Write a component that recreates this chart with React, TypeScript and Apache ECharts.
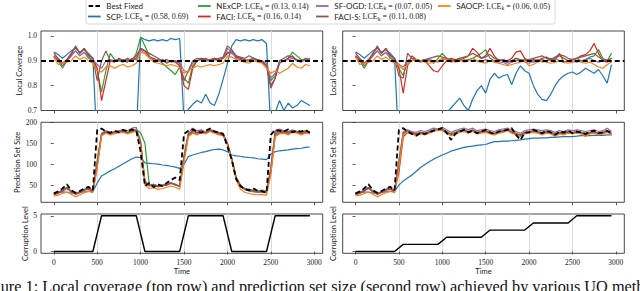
import React, { useEffect, useRef } from 'react';
import * as echarts from 'echarts';

// ---------- data ----------
const timeSteps = Array.from({ length: 60 }, (_, i) => i * 50);
const xTicks = [0, 500, 1000, 1500, 2000, 2500, 3000];
const coverageTicks = [0.7, 0.8, 0.9, 1.0];
const sizeTicks = [50, 100, 150, 200];
const levelTicks = [0, 5];
const targetCoverage = 0.9;

const methodNames = ['SCP', 'NExCP', 'FACI', 'SF-OGD', 'FACI-S', 'SAOCP'];
const lceCoverage = [0.58, 0.13, 0.16, 0.07, 0.11, 0.06];
const lceSize = [0.69, 0.14, 0.14, 0.05, 0.08, 0.05];

// Local coverage, left column
const covLeftSCP = [0.935,0.925,0.91,0.925,0.94,0.95,0.935,0.945,0.93,0.91,
  0.55,0.5,0.45,0.42,0.4,0.4,0.42,0.45,0.5,0.6,
  0.995,0.985,0.98,0.985,0.98,0.985,0.98,0.99,0.985,0.99,
  0.66,0.705,0.725,0.74,0.73,0.765,0.73,0.72,0.765,0.825,
  0.89,0.96,0.985,0.98,0.985,0.98,0.985,0.98,0.985,0.97,
  0.62,0.69,0.74,0.7,0.73,0.71,0.72,0.74,0.73,0.72];
const covLeftNExCP = [0.92,0.9,0.87,0.9,0.92,0.94,0.92,0.935,0.91,0.9,
  0.86,0.775,0.86,0.93,0.905,0.9,0.895,0.905,0.9,0.93,
  0.995,0.96,0.92,0.9,0.905,0.89,0.875,0.86,0.845,0.875,
  0.83,0.81,0.88,0.9,0.91,0.905,0.9,0.91,0.905,0.91,
  0.935,0.93,0.92,0.91,0.9,0.905,0.91,0.9,0.895,0.88,
  0.82,0.84,0.9,0.9,0.91,0.935,0.92,0.905,0.9,0.91];
const covLeftFACI = [0.93,0.91,0.89,0.905,0.93,0.955,0.93,0.95,0.92,0.91,
  0.87,0.74,0.82,0.9,0.895,0.91,0.9,0.895,0.91,0.905,
  0.95,0.94,0.915,0.91,0.9,0.905,0.89,0.9,0.895,0.88,
  0.8,0.785,0.87,0.9,0.91,0.9,0.905,0.91,0.9,0.91,
  0.93,0.94,0.915,0.91,0.905,0.9,0.91,0.9,0.895,0.88,
  0.8,0.83,0.89,0.9,0.91,0.92,0.9,0.895,0.905,0.9];
const covLeftSFOGD = [0.915,0.9,0.89,0.9,0.92,0.94,0.92,0.935,0.915,0.905,
  0.885,0.87,0.9,0.905,0.9,0.9,0.905,0.9,0.905,0.91,
  0.945,0.93,0.915,0.905,0.9,0.9,0.895,0.9,0.9,0.89,
  0.86,0.855,0.89,0.9,0.905,0.9,0.9,0.905,0.9,0.91,
  0.95,0.935,0.91,0.905,0.9,0.9,0.905,0.9,0.9,0.89,
  0.83,0.85,0.89,0.9,0.905,0.91,0.9,0.9,0.905,0.9];
const covLeftFACIS = [0.92,0.905,0.88,0.9,0.925,0.96,0.93,0.95,0.925,0.91,
  0.82,0.9,0.94,0.9,0.9,0.905,0.9,0.91,0.9,0.92,
  0.95,0.94,0.93,0.92,0.91,0.9,0.905,0.895,0.9,0.89,
  0.82,0.86,0.9,0.91,0.905,0.91,0.9,0.905,0.91,0.915,
  0.96,0.945,0.92,0.915,0.91,0.92,0.91,0.905,0.9,0.88,
  0.79,0.83,0.9,0.91,0.92,0.915,0.905,0.9,0.91,0.905];
const covLeftSAOCP = [0.915,0.885,0.89,0.895,0.9,0.92,0.905,0.915,0.9,0.89,
  0.86,0.855,0.875,0.88,0.87,0.88,0.885,0.875,0.88,0.89,
  0.935,0.93,0.91,0.895,0.89,0.885,0.88,0.885,0.88,0.875,
  0.85,0.86,0.87,0.88,0.875,0.88,0.885,0.88,0.885,0.89,
  0.92,0.915,0.905,0.9,0.895,0.89,0.9,0.895,0.89,0.87,
  0.85,0.86,0.85,0.86,0.87,0.89,0.875,0.87,0.885,0.88];

// Local coverage, right column
const covRightSCP = [0.935,0.925,0.91,0.925,0.94,0.95,0.935,0.945,0.93,0.91,
  0.55,0.48,0.42,0.4,0.38,0.38,0.4,0.42,0.45,0.5,
  0.58,0.69,0.71,0.73,0.75,0.72,0.7,0.745,0.78,0.8,
  0.77,0.825,0.85,0.83,0.84,0.845,0.805,0.85,0.88,0.86,
  0.85,0.8,0.765,0.745,0.74,0.765,0.8,0.825,0.84,0.85,
  0.855,0.845,0.855,0.87,0.86,0.85,0.865,0.84,0.81,0.885];
const covRightNExCP = [0.92,0.9,0.87,0.9,0.92,0.94,0.92,0.935,0.91,0.9,
  0.87,0.84,0.9,0.91,0.905,0.9,0.905,0.9,0.89,0.91,
  0.93,0.91,0.9,0.905,0.91,0.9,0.905,0.91,0.92,0.93,
  0.945,0.91,0.9,0.905,0.9,0.895,0.9,0.91,0.9,0.905,
  0.9,0.895,0.9,0.905,0.9,0.91,0.905,0.93,0.895,0.9,
  0.905,0.91,0.9,0.905,0.915,0.92,0.945,0.91,0.9,0.93];
const covRightFACI = [0.93,0.91,0.89,0.905,0.93,0.955,0.93,0.95,0.92,0.91,
  0.87,0.77,0.88,0.92,0.905,0.9,0.9,0.88,0.86,0.855,
  0.88,0.9,0.91,0.905,0.9,0.91,0.92,0.95,0.935,0.91,
  0.92,0.95,0.92,0.9,0.905,0.9,0.91,0.935,0.94,0.91,
  0.9,0.905,0.9,0.91,0.915,0.905,0.91,0.92,0.91,0.9,
  0.905,0.91,0.92,0.925,0.94,0.97,0.93,0.9,0.895,0.91];
const covRightSFOGD = [0.915,0.9,0.89,0.9,0.92,0.94,0.92,0.935,0.915,0.905,
  0.885,0.875,0.9,0.91,0.9,0.895,0.9,0.905,0.9,0.895,
  0.905,0.91,0.895,0.9,0.905,0.895,0.9,0.91,0.9,0.895,
  0.905,0.9,0.9,0.89,0.895,0.885,0.895,0.9,0.905,0.895,
  0.89,0.9,0.905,0.895,0.9,0.905,0.91,0.9,0.895,0.9,
  0.9,0.895,0.9,0.905,0.91,0.9,0.895,0.9,0.905,0.895];
const covRightFACIS = [0.92,0.905,0.88,0.9,0.925,0.96,0.93,0.95,0.925,0.91,
  0.84,0.83,0.93,0.91,0.905,0.9,0.905,0.91,0.915,0.92,
  0.915,0.91,0.905,0.9,0.91,0.915,0.92,0.93,0.92,0.91,
  0.915,0.925,0.91,0.905,0.9,0.895,0.9,0.91,0.905,0.9,
  0.905,0.91,0.915,0.92,0.91,0.905,0.915,0.925,0.92,0.91,
  0.905,0.91,0.915,0.92,0.925,0.93,0.915,0.905,0.9,0.91];
const covRightSAOCP = [0.915,0.885,0.89,0.895,0.9,0.92,0.905,0.915,0.9,0.89,
  0.88,0.865,0.885,0.9,0.905,0.9,0.895,0.89,0.895,0.9,
  0.91,0.905,0.9,0.895,0.9,0.905,0.9,0.91,0.9,0.895,
  0.89,0.9,0.895,0.89,0.885,0.88,0.885,0.89,0.895,0.9,
  0.88,0.885,0.895,0.9,0.895,0.89,0.895,0.9,0.895,0.89,
  0.895,0.9,0.895,0.89,0.895,0.885,0.875,0.87,0.885,0.895];

// Prediction set size, left column
const sizeLeftBest = [30,35,42,52,38,32,36,42,46,38,
  182,185,178,175,180,176,182,178,183,180,
  130,48,55,45,52,48,55,62,68,62,
  172,180,183,178,175,180,185,178,176,172,
  142,110,65,48,40,38,42,36,35,32,
  170,182,180,178,183,176,180,178,182,175];
const sizeLeftSCP = [32,33,34,33,31,32,33,34,35,35,
  55,72,78,84,89,95,101,107,113,117,
  116,103,102,101,100,98,97,95,93,90,
  100,118,122,125,128,130,133,135,136,134,
  130,122,120,119,117,116,115,113,112,111,
  124,130,132,133,134,136,137,138,140,141];
const sizeLeftNExCP = [28,32,38,45,35,30,33,40,42,38,
  110,172,178,174,176,178,180,176,180,182,
  175,150,50,52,48,50,52,55,50,48,
  120,170,178,175,180,176,182,178,175,172,
  150,115,70,50,42,40,38,36,38,35,
  90,172,178,180,176,180,178,176,180,176];
const sizeLeftFACI = [27,30,36,42,34,28,32,38,40,36,
  95,170,175,172,175,176,178,174,178,180,
  150,60,48,50,46,48,50,54,52,46,
  110,168,175,172,178,175,180,176,172,170,
  148,112,68,46,40,36,35,33,35,32,
  80,168,175,176,172,178,176,172,176,174];
const sizeLeftSFOGD = [29,33,38,44,36,30,34,40,43,38,
  105,174,180,176,178,180,182,180,186,188,
  155,55,50,52,48,50,52,56,52,48,
  118,176,186,180,182,176,182,180,176,174,
  150,112,66,46,40,36,34,33,34,32,
  92,180,184,180,178,182,178,175,178,176];
const sizeLeftFACIS = [28,31,37,43,35,29,33,39,41,37,
  100,172,177,173,176,177,179,175,180,182,
  152,56,49,51,47,49,51,55,51,47,
  115,172,180,176,180,175,181,178,174,171,
  149,113,67,47,41,37,36,34,36,33,
  85,176,180,178,175,180,177,174,178,175];
const sizeLeftSAOCP = [24,26,30,34,28,22,27,32,35,32,
  90,168,174,170,173,175,176,172,176,178,
  145,50,42,44,40,42,45,48,45,40,
  105,166,174,170,176,172,178,174,170,168,
  145,108,62,40,33,30,28,27,28,26,
  75,166,172,174,170,176,174,170,174,172];

// Prediction set size, right column
const sizeRightBest = [30,35,42,52,38,32,36,42,46,38,
  182,186,178,172,168,175,172,176,180,183,
  186,175,158,172,178,182,176,180,174,178,
  182,176,172,178,180,182,186,170,158,175,
  176,182,178,174,180,176,170,178,176,180,
  174,178,176,172,178,180,174,176,180,174];
const sizeRightSCP = [32,33,34,33,31,32,33,34,35,35,
  50,60,67,74,83,92,99,106,112,117,
  122,126,131,134,137,140,142,143,145,146,
  147,151,154,154,155,155,156,157,158,160,
  161,162,162,163,163,164,164,165,166,166,
  166,167,168,168,168,169,169,169,170,170];
const sizeRightNExCP = [28,32,38,45,35,30,33,40,42,38,
  110,175,180,176,172,176,174,178,182,180,
  184,178,172,176,180,182,178,182,176,178,
  180,176,174,178,180,182,178,174,170,176,
  178,180,178,176,178,176,172,176,174,178,
  176,178,176,174,176,178,174,176,180,174];
const sizeRightFACI = [27,30,36,42,34,28,32,38,40,36,
  80,165,176,174,170,174,172,176,180,182,
  182,176,170,174,178,180,176,180,174,176,
  178,174,172,176,178,182,176,172,168,174,
  176,178,176,172,176,174,170,174,172,176,
  174,176,174,170,174,176,172,174,178,172];
const sizeRightSFOGD = [29,33,38,44,36,30,34,40,43,38,
  105,178,182,178,176,180,178,182,186,184,
  188,182,176,180,184,186,182,186,180,182,
  184,180,178,182,184,186,182,178,174,180,
  182,184,182,180,182,180,176,180,178,182,
  180,182,180,178,180,182,178,180,186,178];
const sizeRightFACIS = [28,31,37,43,35,29,33,39,41,37,
  95,172,178,175,172,175,173,177,181,181,
  183,177,171,175,179,181,177,181,175,177,
  179,175,173,177,179,183,177,173,169,175,
  177,179,177,173,177,175,171,175,173,177,
  175,177,175,171,175,177,173,175,179,173];
const sizeRightSAOCP = [24,26,30,34,28,22,27,32,35,32,
  90,170,176,172,168,172,170,174,178,182,
  180,174,168,172,176,178,174,178,172,174,
  176,172,170,174,176,180,174,170,166,172,
  174,176,174,170,174,172,166,172,170,174,
  172,174,172,166,172,174,170,172,176,170];

// Corruption level (vertices of the piecewise-linear schedule)
const levelTimes = [0, 450, 550, 950, 1050, 1450, 1550, 1950, 2050, 2450, 2550, 2950];
const levelLeft = [0, 0, 5, 5, 0, 0, 5, 5, 0, 0, 5, 5];
const levelRight = [0, 0, 1, 1, 2, 2, 3, 3, 4, 4, 5, 5];

const captionText =
  'Figure 1: Local coverage (top row) and prediction set size (second row) achieved by various UQ methods';

// ---------- style ----------
const methodColors = ['#1f77b4', '#2ca02c', '#d62728', '#9467bd', '#8c564b', '#ff7f0e'];
const coverageByCol = [
  [covLeftSCP, covLeftNExCP, covLeftFACI, covLeftSFOGD, covLeftFACIS, covLeftSAOCP],
  [covRightSCP, covRightNExCP, covRightFACI, covRightSFOGD, covRightFACIS, covRightSAOCP],
];
const sizeByCol = [
  [sizeLeftSCP, sizeLeftNExCP, sizeLeftFACI, sizeLeftSFOGD, sizeLeftFACIS, sizeLeftSAOCP],
  [sizeRightSCP, sizeRightNExCP, sizeRightFACI, sizeRightSFOGD, sizeRightFACIS, sizeRightSAOCP],
];
const bestSizeByCol = [sizeLeftBest, sizeRightBest];
const levelByCol = [levelLeft, levelRight];

const toPairs = (vals: number[]) => vals.map((v, i) => [timeSteps[i], v]);
const toXY = (xs: number[], ys: number[]) => xs.map((x, i) => [x, ys[i]]);

const TICK_FONT = 'Liberation Serif';
const NAME_FONT = 'Lato';
const dash = [5, 3];
const solidIcon = 'path://M0,0H14V2H0Z';
const dashIcon = 'path://M0,0H5V2H0Z M7.5,0H12.5V2H7.5Z';

export default function App() {
  const ref = useRef<HTMLDivElement>(null);
  useEffect(() => {
    document.body.style.margin = '0';
    const chart = echarts.init(ref.current!, null, { renderer: 'svg' });

    const colLeft = [41, 342.7];
    const colWidth = [281.7, 281.6];
    const rowTop = [31, 122.3, 214];
    const rowHeight = [79.5, 80, 39.3];

    const grids: any[] = [];
    const xAxes: any[] = [];
    const yAxes: any[] = [];
    const yCfg = [
      { min: 0.7, max: 1.02, ticks: coverageTicks, fmt: (v: number) => v.toFixed(1), name: 'Local Coverage', gap: 15 },
      { min: 9, max: 200, ticks: sizeTicks, fmt: (v: number) => String(v), name: 'Prediction Set Size', gap: 16 },
      { min: -0.25, max: 5.25, ticks: levelTicks, fmt: (v: number) => String(v), name: 'Corruption Level', gap: 11 },
    ];

    for (let r = 0; r < 3; r++) {
      for (let c = 0; c < 2; c++) {
        const idx = r * 2 + c;
        grids.push({
          left: colLeft[c], top: rowTop[r], width: colWidth[c], height: rowHeight[r],
          show: true, borderColor: '#333', borderWidth: 0.9, backgroundColor: 'transparent',
        });
        xAxes.push({
          type: 'value', gridIndex: idx, min: -147.5, max: 3097.5,
          axisLine: { show: false },
          axisTick: { show: true, length: 3, customValues: xTicks, lineStyle: { color: '#333', width: 0.8 } },
          axisLabel: {
            show: r === 2, customValues: xTicks, formatter: (v: number) => String(v),
            fontFamily: TICK_FONT, fontSize: 7.5, color: '#222', margin: 5,
          },
          splitLine: { show: true, showMinLine: false, showMaxLine: false, lineStyle: { color: '#dcdcdc', width: 1 } },
          name: r === 2 ? 'Time' : '', nameLocation: 'middle', nameGap: 14,
          nameTextStyle: { fontFamily: NAME_FONT, fontSize: 7.5, color: '#222' },
        });
        const y = yCfg[r];
        yAxes.push({
          type: 'value', gridIndex: idx, min: y.min, max: y.max,
          axisLine: { show: false },
          axisTick: { show: true, length: 3, customValues: y.ticks, lineStyle: { color: '#333', width: 0.8 } },
          axisLabel: { show: c === 0, customValues: y.ticks, formatter: y.fmt, fontFamily: TICK_FONT, fontSize: 7.5, color: '#222', margin: 4 },
          splitLine: { show: false },
          name: y.name, nameLocation: 'middle', nameGap: c === 0 ? y.gap : 5,
          nameTextStyle: { fontFamily: NAME_FONT, fontSize: 7.5, color: '#222' },
        });
      }
    }

    const series: any[] = [];
    for (let c = 0; c < 2; c++) {
      // Row 1: local coverage
      methodNames.forEach((m, k) => {
        series.push({
          type: 'line', name: m, xAxisIndex: c, yAxisIndex: c, data: toPairs(coverageByCol[c][k]),
          symbol: 'none', showSymbol: false, clip: true, z: 2,
          lineStyle: { color: methodColors[k], width: 1.2 }, itemStyle: { color: methodColors[k] },
        });
      });
      series.push({
        type: 'line', name: 'Best Fixed', xAxisIndex: c, yAxisIndex: c, data: [],
        symbol: 'none', z: 3,
        lineStyle: { color: '#000', width: 1.8, type: dash }, itemStyle: { color: '#000' },
        markLine: {
          silent: true, symbol: ['none', 'none'], label: { show: false }, z: 4,
          lineStyle: { color: '#000', width: 1.8, type: dash },
          data: [{ yAxis: targetCoverage }],
        },
      });
      // Row 2: prediction set size
      const gi = 2 + c;
      methodNames.forEach((m, k) => {
        series.push({
          type: 'line', name: m, xAxisIndex: gi, yAxisIndex: gi, data: toPairs(sizeByCol[c][k]),
          symbol: 'none', showSymbol: false, clip: true, z: 2,
          lineStyle: { color: methodColors[k], width: 1.2 }, itemStyle: { color: methodColors[k] },
        });
      });
      series.push({
        type: 'line', name: 'Best Fixed', xAxisIndex: gi, yAxisIndex: gi, data: toPairs(bestSizeByCol[c]),
        symbol: 'none', showSymbol: false, clip: true, z: 3,
        lineStyle: { color: '#000', width: 1.8, type: dash }, itemStyle: { color: '#000' },
      });
      // Row 3: corruption level
      const gl = 4 + c;
      series.push({
        type: 'line', name: 'Corruption Level', xAxisIndex: gl, yAxisIndex: gl, data: toXY(levelTimes, levelByCol[c]),
        symbol: 'none', showSymbol: false, z: 2,
        lineStyle: { color: '#000', width: 1.4 }, itemStyle: { color: '#000' },
      });
    }

    const legendCols = [['Best Fixed', 'SCP'], ['NExCP', 'FACI'], ['SF-OGD', 'FACI-S'], ['SAOCP']];
    const legendLeft = [88, 198, 316, 438];
    const legendFormatter = (name: string) => {
      if (name === 'Best Fixed') return '{n|Best Fixed}';
      const k = methodNames.indexOf(name);
      return `{n|${name}:} {m|LCE}{s|k}{m| = (${lceCoverage[k].toFixed(2)}, ${lceSize[k].toFixed(2)})}`;
    };
    const rich = {
      n: { fontFamily: NAME_FONT, fontSize: 8, color: '#222', lineHeight: 10 },
      m: { fontFamily: TICK_FONT, fontSize: 8, color: '#222', lineHeight: 10 },
      s: { fontFamily: TICK_FONT, fontSize: 5.5, color: '#222', lineHeight: 5, verticalAlign: 'bottom' },
    };
    const legends = legendCols.map((names, j) => ({
      orient: 'vertical', left: legendLeft[j], top: 1, padding: 0,
      itemWidth: 14, itemHeight: 1.8, itemGap: 0.5, selectedMode: false, z: 5,
      data: names.map((nm) => ({ name: nm, icon: nm === 'Best Fixed' ? dashIcon : solidIcon })),
      formatter: legendFormatter,
      textStyle: { fontFamily: TICK_FONT, fontSize: 8, color: '#222', lineHeight: 10, rich },
    }));

    chart.setOption({
      animation: false,
      backgroundColor: '#fff',
      grid: grids,
      xAxis: xAxes,
      yAxis: yAxes,
      legend: legends,
      series,
      graphic: [
        {
          type: 'rect', z: 0, silent: true,
          shape: { x: 86, y: -4, width: 469, height: 28, r: 2 },
          style: { fill: '#fff', stroke: '#d0d0d0', lineWidth: 0.8 },
        },
        {
          type: 'text', x: -21, y: 286, z: 1, silent: true,
          style: { text: captionText, fontFamily: 'Liberation Serif', fontSize: 16.3, fill: '#111', verticalAlign: 'middle' },
        },
      ],
    });
    return () => chart.dispose();
  }, []);
  return <div ref={ref} style={{ width: 640, height: 291, position: 'absolute', left: 0, top: 0 }} />;
}
